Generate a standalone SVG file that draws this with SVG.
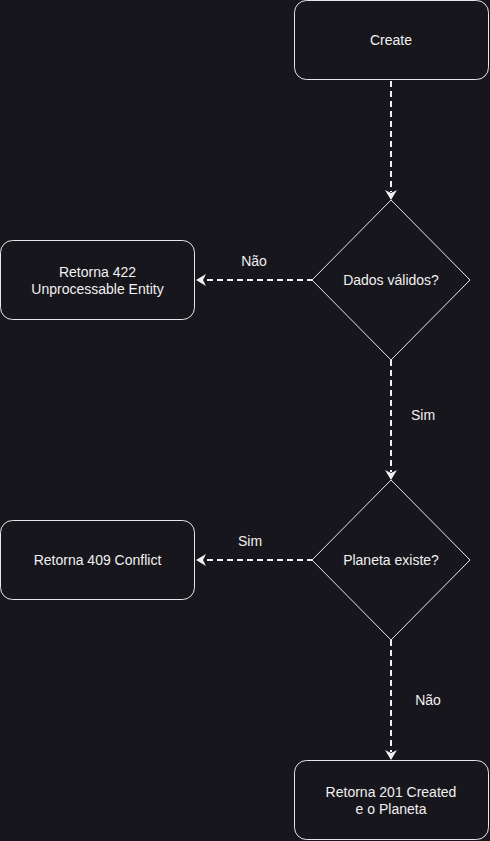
<svg xmlns="http://www.w3.org/2000/svg" width="490" height="841" viewBox="0 0 490 841">
<style>
.bg{fill:#18161d}
.node{fill:#18161d;stroke:#e6e6e6;stroke-width:1}
.t{font-family:"Liberation Sans",Arial,sans-serif;font-size:14px;fill:#f0f0f0;text-anchor:middle}
.edge{fill:none;stroke:#f0f0f0;stroke-width:2;stroke-dasharray:6 4}
.head{fill:#f0f0f0}
</style>
<rect class="bg" x="0" y="0" width="490" height="841"/>
<g id="edges">
<path class="edge" d="M391,81 L391,192"/>
<path class="head" d="M385,190 L391,200 L397,190 L391,193 Z"/>
<path class="edge" d="M313,280 L203,280"/>
<path class="head" d="M206,274 L196,280 L206,286 L203,280 Z"/>
<path class="edge" d="M391,360 L391,472"/>
<path class="head" d="M385,470 L391,480 L397,470 L391,473 Z"/>
<path class="edge" d="M313,560 L203,560"/>
<path class="head" d="M206,554 L196,560 L206,566 L203,560 Z"/>
<path class="edge" d="M391,640 L391,752"/>
<path class="head" d="M385,750 L391,760 L397,750 L391,753 Z"/>
<text class="t" x="254" y="266">Não</text>
<text class="t" x="423" y="420">Sim</text>
<text class="t" x="250" y="546">Sim</text>
<text class="t" x="428" y="705">Não</text>
</g>
<g id="create">
<rect class="node" x="294.5" y="0.5" width="194" height="79" rx="12"/>
<text class="t" x="391" y="45">Create</text>
</g>
<g id="dados">
<path class="node" d="M391,200 L470,280 L391,360 L312,280 Z"/>
<text class="t" x="391" y="285">Dados válidos?</text>
</g>
<g id="r422">
<rect class="node" x="0.5" y="240.5" width="194" height="79" rx="12"/>
<text class="t" x="97.5" y="277">Retorna 422</text>
<text class="t" x="97.5" y="294">Unprocessable Entity</text>
</g>
<g id="planeta">
<path class="node" d="M391,480 L470,560 L391,640 L312,560 Z"/>
<text class="t" x="391" y="565">Planeta existe?</text>
</g>
<g id="r409">
<rect class="node" x="0.5" y="520.5" width="194" height="79" rx="12"/>
<text class="t" x="97.5" y="565">Retorna 409 Conflict</text>
</g>
<g id="r201">
<rect class="node" x="294.5" y="760.5" width="194" height="79" rx="12"/>
<text class="t" x="391" y="797">Retorna 201 Created</text>
<text class="t" x="391" y="814">e o Planeta</text>
</g>
</svg>
